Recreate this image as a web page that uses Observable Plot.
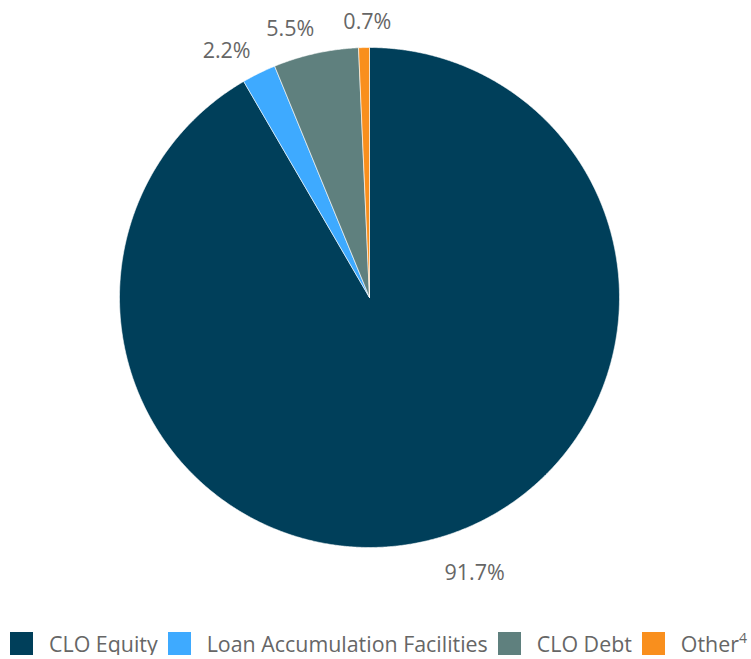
<!DOCTYPE html>
<html>
<head>
<meta charset="utf-8">
<script src="https://cdn.jsdelivr.net/npm/d3@7"></script>
<script src="https://cdn.jsdelivr.net/npm/@observablehq/plot@0.6"></script>
<style>
  body { margin: 0; background: #fff; font-family: "Open Sans", sans-serif; }
  #chart svg { display: block; }
  #legend { display: flex; align-items: center; margin-top: 32px; padding-left: 10px; font-size: 21.4px; line-height: 23px; height: 23px; color: #666; }
  .item { display: flex; align-items: center; margin-right: 10px; white-space: nowrap; }
  .sw { width: 23px; height: 23px; margin-right: 16px; flex: none; }
  sup { font-size: 14px; position: relative; top: -9px; vertical-align: baseline; line-height: 0; }
</style>
</head>
<body>
<div id="chart"></div>
<div id="legend"></div>
<script>
const categories = ["CLO Equity", "Loan Accumulation Facilities", "CLO Debt", "Other"];
const legendLabels = ["CLO Equity", "Loan Accumulation Facilities", "CLO Debt", "Other<sup>4</sup>"];
const values = [91.7, 2.2, 5.5, 0.7];
const labels = ["91.7%", "2.2%", "5.5%", "0.7%"];
const colors = ["#003f5a", "#3eaaff", "#5f807e", "#f98f1d"];

const data = categories.map((c, i) => ({name: c, value: values[i], label: labels[i]}));
const arcs = d3.pie().sort(null).value(d => d.value)(data);

// Polygon outline points for each slice (angle clockwise from 12 o'clock)
const pts = [];
for (const a of arcs) {
  const name = a.data.name;
  pts.push({name, x: 0, y: 0});
  const n = Math.max(2, Math.ceil((a.endAngle - a.startAngle) / 0.005));
  for (let k = 0; k <= n; k++) {
    const t = a.startAngle + (a.endAngle - a.startAngle) * k / n;
    pts.push({name, x: Math.sin(t), y: Math.cos(t)});
  }
  pts.push({name, x: 0, y: 0});
}

const R = 1.12;
const lbl = arcs.map(a => {
  const m = (a.startAngle + a.endAngle) / 2;
  const s = Math.sin(m);
  return {label: a.data.label, x: R * s, y: R * Math.cos(m),
          anchor: Math.abs(s) < 0.1 ? "middle" : (s > 0 ? "start" : "end")};
});

const textOpts = {x: "x", y: "y", text: "label", fontSize: 21.5, fill: "#666", dy: 5, fontFamily: "Open Sans"};

const chart = Plot.plot({
  width: 751,
  height: 600,
  marginLeft: 119,
  marginRight: 132,
  marginTop: 47,
  marginBottom: 53,
  x: {domain: [-1, 1], axis: null},
  y: {domain: [-1, 1], axis: null},
  color: {domain: categories, range: colors},
  style: {fontFamily: "Open Sans", background: "#fff", overflow: "visible"},
  marks: [
    Plot.line(pts, {x: "x", y: "y", z: "name", fill: "name", stroke: "#fff", strokeWidth: 0.6, curve: "linear"}),
    Plot.text(lbl.filter(d => d.anchor === "start"), {...textOpts, textAnchor: "start", dx: 2}),
    Plot.text(lbl.filter(d => d.anchor === "end"), {...textOpts, textAnchor: "end", dx: 5}),
    Plot.text(lbl.filter(d => d.anchor === "middle"), {...textOpts, textAnchor: "middle", dx: 4})
  ]
});
document.getElementById("chart").append(chart);

const legend = document.getElementById("legend");
categories.forEach((c, i) => {
  const it = document.createElement("div");
  it.className = "item";
  it.innerHTML = `<span class="sw" style="background:${colors[i]}"></span><span>${legendLabels[i]}</span>`;
  legend.append(it);
});
</script>
</body>
</html>
